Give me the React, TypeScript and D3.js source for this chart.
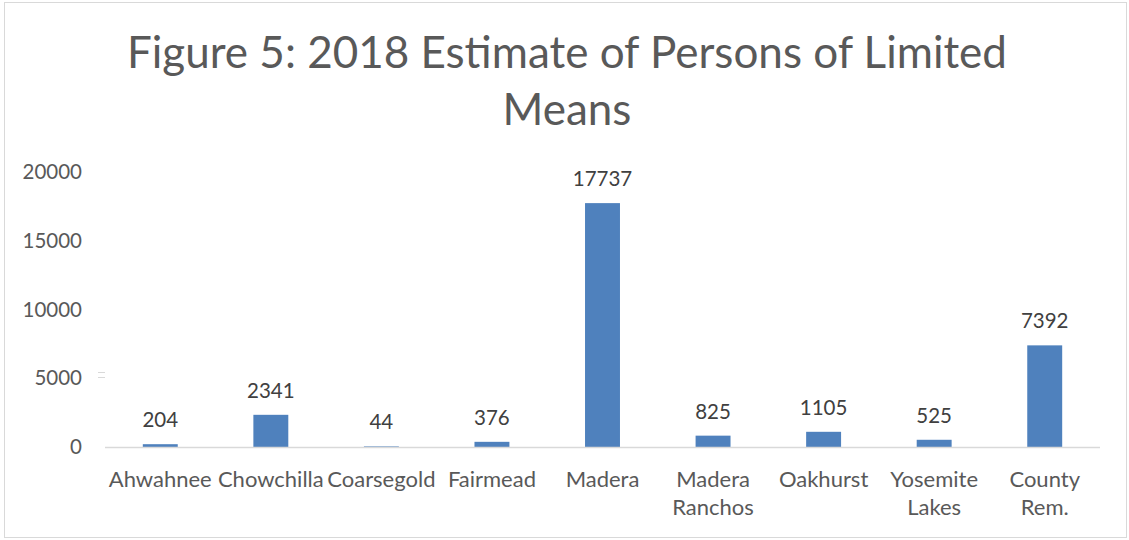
import React from "react";
import * as d3 from "d3";

const categories = ["Ahwahnee", "Chowchilla", "Coarsegold", "Fairmead", "Madera", "Madera Ranchos", "Oakhurst", "Yosemite Lakes", "County Rem."];
const categoryLines = [["Ahwahnee"], ["Chowchilla"], ["Coarsegold"], ["Fairmead"], ["Madera"], ["Madera", "Ranchos"], ["Oakhurst"], ["Yosemite", "Lakes"], ["County", "Rem."]];
const values = [204, 2341, 44, 376, 17737, 825, 1105, 525, 7392];
const yTicks = [0, 5000, 10000, 15000, 20000];
const titleLines = ["Figure 5: 2018 Estimate of Persons of Limited", "Means"];

const FONT = "Lato, 'Open Sans', 'DejaVu Sans', sans-serif";

export default function App() {
  const W = 1129, H = 540;
  const left = 105, right = 1100, top = 172, bottom = 447;
  const x = d3.scaleBand<string>().domain(categories).range([left, right]).paddingInner(0.684).paddingOuter(0.342);
  const y = d3.scaleLinear().domain([0, 20000]).range([bottom, top]);
  return (
    <svg width={W} height={H} style={{ position: "absolute", left: 0, top: 0 }}>
      <rect x={0} y={0} width={W} height={H} fill="#fff" />
      <rect x={4.5} y={2.5} width={1122} height={535} fill="#fff" stroke="#d9d9d9" strokeWidth={1} />
      {titleLines.map((t, i) => (
        <text key={i} x={567} y={68 + i * 57} textAnchor="middle" fontFamily={FONT} fontSize={44} fill="#595959">{t}</text>
      ))}
      {yTicks.map((t) => (
        <text key={t} x={82} y={y(t)} dy="0.35em" textAnchor="end" fontFamily={FONT} fontSize={20.5} fill="#595959">{t}</text>
      ))}
      <line x1={98} x2={105} y1={372.5} y2={372.5} stroke="#d9d9d9" />
      <line x1={98} x2={105} y1={377.5} y2={377.5} stroke="#d9d9d9" />
      {categories.map((c, i) => (
        <rect key={c} x={x(c)} y={y(values[i])} width={x.bandwidth()} height={bottom - y(values[i])} fill="#4f81bd" />
      ))}
      <line x1={left} x2={right} y1={bottom + 0.5} y2={bottom + 0.5} stroke="#d9d9d9" strokeWidth={1.5} />
      {categories.map((c, i) => (
        <text key={c} x={(x(c) as number) + x.bandwidth() / 2} y={y(values[i]) - 17} textAnchor="middle" fontFamily={FONT} fontSize={20.5} fill="#404040">{values[i]}</text>
      ))}
      {categories.map((c, i) => (
        <text key={c} x={(x(c) as number) + x.bandwidth() / 2} y={487} textAnchor="middle" fontFamily={FONT} fontSize={22} fill="#595959">
          {categoryLines[i].map((l, j) => (
            <tspan key={j} x={(x(c) as number) + x.bandwidth() / 2} dy={j === 0 ? 0 : 28}>{l}</tspan>
          ))}
        </text>
      ))}
    </svg>
  );
}
